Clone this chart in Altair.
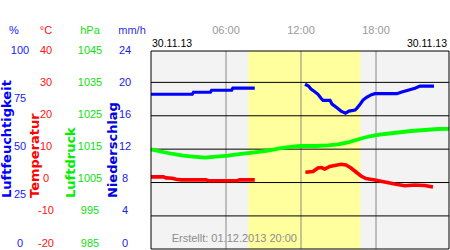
import altair as alt
import pandas as pd

W, H = 298, 198
XMAX = 23.84

# ---- data (hours of day, values) ----
hum_hours = [0, 3.3, 3.4, 4.75, 4.85, 6.45, 6.55, 8.3,
             12.32, 12.6, 12.8, 13.1, 13.36, 13.6, 13.76, 14.32, 14.48, 14.8, 15.2, 15.56,
             15.84, 16.32, 16.48, 16.68, 16.96, 17.28, 17.64, 17.92, 19.68, 20.0, 20.56,
             21.12, 21.52, 22.64]
hum_values = [77.4, 77.4, 78.4, 78.4, 79.4, 79.4, 80.5, 80.5,
              82.4, 81.5, 80.0, 78.7, 77.4, 75.4, 74.4, 74.4, 72.5, 71.0, 69.0, 68.0,
              69.0, 69.5, 70.5, 72.0, 74.5, 76.0, 77.2, 77.7, 77.7, 78.4, 79.4,
              80.4, 81.5, 81.5]
hum_seg = [1] * 8 + [2] * 26

temp_hours = [0, 1.0, 1.2, 1.7, 2.0, 2.4, 4.4, 4.6, 6.9, 7.1, 8.3,
              12.35, 12.96, 13.36, 13.63, 13.9, 14.3, 14.7, 15.2, 15.6, 16.0, 16.4,
              16.8, 17.2, 17.9, 18.7, 19.5, 20.3, 21.1, 21.9, 22.56]
temp_values = [1.7, 1.7, 1.4, 1.3, 1.0, 0.8, 0.8, 0.55, 0.55, 0.8, 0.8,
               3.07, 3.3, 4.35, 4.5, 4.05, 4.8, 5.1, 5.46, 5.25, 4.35, 3.16,
               1.96, 1.21, 0.76, 0.16, -0.44, -0.95, -0.74, -0.89, -1.34]
temp_seg = [1] * 11 + [2] * 20

pres_hours = [0, 0.96, 1.76, 2.56, 3.36, 4.3, 5.2, 6.16, 7.2, 8.3, 9.36, 10.4, 11.5,
              12.0, 13.1, 14.16, 14.96, 15.76, 16.4, 17.1, 17.9, 18.7, 19.76, 20.8,
              21.9, 22.96, 23.84]
pres_values = [1014.95, 1014.15, 1013.55, 1013.04, 1012.74, 1012.44, 1012.74, 1013.04,
               1013.55, 1014.06, 1014.54, 1015.34, 1015.85, 1015.94, 1015.94, 1016.15,
               1016.4, 1017.0, 1017.74, 1018.49, 1019.09, 1019.54, 1019.99, 1020.44,
               1020.74, 1021.04, 1021.1]

day_start, day_end = [7.78], [16.75]
time_ticks = [6, 12, 18]
time_labels = ["06:00", "12:00", "18:00"]
grid_temps = [-10, 0, 10, 20, 30]

hum_ticks = [0, 25, 50, 75, 100]
temp_ticks = [-20, -10, 0, 10, 20, 30, 40]
pres_ticks = [985, 995, 1005, 1015, 1025, 1035, 1045]
rain_ticks = [0, 4, 8, 12, 16, 20, 24]

date_label = "30.11.13"
created_label = "Erstellt: 01.12.2013 20:00"

# ---- helpers ----
xs = alt.Scale(domain=[0, XMAX], nice=False, zero=False)


def ys(lo, hi):
    return alt.Scale(domain=[lo, hi], range=[198.3, -2], nice=False, zero=False)


def ls(lo, hi):
    return alt.Scale(domain=[lo, hi], range=[192.5, -0.5], nice=False, zero=False)


one = pd.DataFrame({"k": [0]})
LAB_FONT = "Liberation Sans"
TITLE_FONT = "DejaVu Sans"

bg = alt.Chart(one).mark_rect(color="#F3F3F3").encode(
    x=alt.value(0), x2=alt.value(W), y=alt.value(0), y2=alt.value(H))

band = alt.Chart(pd.DataFrame({"s": day_start, "e": day_end})).mark_rect(color="#FFFF9E").encode(
    x=alt.X("s:Q", scale=xs, axis=None), x2="e:Q", y=alt.value(0), y2=alt.value(H))

vrules = alt.Chart(pd.DataFrame({"h": time_ticks})).mark_rule(color="#888888", strokeWidth=1).encode(
    x=alt.X("h:Q", scale=xs, axis=None), y=alt.value(0), y2=alt.value(H))

hrules = alt.Chart(pd.DataFrame({"t": grid_temps})).mark_rule(color="black", strokeWidth=1).encode(
    y=alt.Y("t:Q", scale=ys(-20, 40), axis=None), x=alt.value(0), x2=alt.value(W))

hum = alt.Chart(pd.DataFrame({"h": hum_hours, "v": hum_values, "s": hum_seg})).mark_line(
    color="#0000FF", strokeWidth=3.2).encode(
    x=alt.X("h:Q", scale=xs, axis=None), y=alt.Y("v:Q", scale=ys(0, 100), axis=None),
    detail="s:N", order="h:Q")

temp = alt.Chart(pd.DataFrame({"h": temp_hours, "v": temp_values, "s": temp_seg})).mark_line(
    color="#FF0000", strokeWidth=3.6).encode(
    x=alt.X("h:Q", scale=xs, axis=None), y=alt.Y("v:Q", scale=ys(-20, 40), axis=None),
    detail="s:N", order="h:Q")

pres = alt.Chart(pd.DataFrame({"h": pres_hours, "v": pres_values})).mark_line(
    color="#00FF00", strokeWidth=3.8).encode(
    x=alt.X("h:Q", scale=xs, axis=None), y=alt.Y("v:Q", scale=ys(985, 1045), axis=None),
    order="h:Q")

border = alt.Chart(one).mark_rect(fillOpacity=0, stroke="black", strokeWidth=1).encode(
    x=alt.value(0), x2=alt.value(W), y=alt.value(0), y2=alt.value(H))


def tick_col(vals, lo, hi, xpos, color):
    df = pd.DataFrame({"v": vals, "l": [str(v) for v in vals]})
    return alt.Chart(df).mark_text(font=LAB_FONT, fontSize=11, color=color, align="center",
                                   baseline="middle").encode(
        x=alt.value(xpos), y=alt.Y("v:Q", scale=ls(lo, hi), axis=None), text="l:N")


def label(txt, x, y, color, size=11, align="center", font=LAB_FONT, weight="normal", angle=0):
    kw = dict(font=font, fontSize=size, color=color, align=align, baseline="middle",
              fontWeight=weight)
    if angle:
        kw["angle"] = angle
    return alt.Chart(pd.DataFrame({"t": [txt]})).mark_text(**kw).encode(
        x=alt.value(x), y=alt.value(y), text="t:N")


cols = [
    tick_col(hum_ticks, 0, 100, -131, "#2020FF"),
    tick_col(temp_ticks, -20, 40, -105, "#FF1010"),
    tick_col(pres_ticks, 985, 1045, -61, "#10E010"),
    tick_col(rain_ticks, 0, 24, -26, "#2020E0"),
]

heads = [
    label("%", -137, -20, "#2020FF"),
    label("°C", -105, -20, "#FF1010"),
    label("hPa", -61, -20, "#10E010"),
    label("mm/h", -19, -20, "#3030E0"),
]

titles = [
    label("Luftfeuchtigkeit", -144.5, 147, "#0000FF", 13, "left", TITLE_FONT, "bold", 270),
    label("Temperatur", -116, 147, "#FF0000", 13, "left", TITLE_FONT, "bold", 270),
    label("Luftdruck", -80, 147, "#00EE00", 13, "left", TITLE_FONT, "bold", 270),
    label("Niederschlag", -38, 147, "#0000DD", 13, "left", TITLE_FONT, "bold", 270),
]

times = alt.Chart(pd.DataFrame({"h": time_ticks, "l": time_labels})).mark_text(
    font=LAB_FONT, fontSize=11, color="#999999", align="center", baseline="middle").encode(
    x=alt.X("h:Q", scale=xs, axis=None), y=alt.value(-20), text="l:N")

dates = [
    label(date_label, 1, -7, "black", 10.5, "left"),
    label(date_label, W - 2, -7, "black", 10.5, "right"),
]

created = label(created_label, 146, 188, "#8C8C8C", 11, "right")

chart = alt.layer(
    bg, band, vrules, hrules, pres, temp, hum, border, times, created,
    *cols, *heads, *titles, *dates
).resolve_scale(y="independent").properties(
    width=W, height=H,
    autosize=alt.AutoSizeParams(type="none"),
    padding={"left": 151, "top": 51, "right": 1, "bottom": 1},
    background="white",
).configure_view(stroke="transparent")

chart.save("out.html", embed_options={"renderer": "svg", "actions": False})
